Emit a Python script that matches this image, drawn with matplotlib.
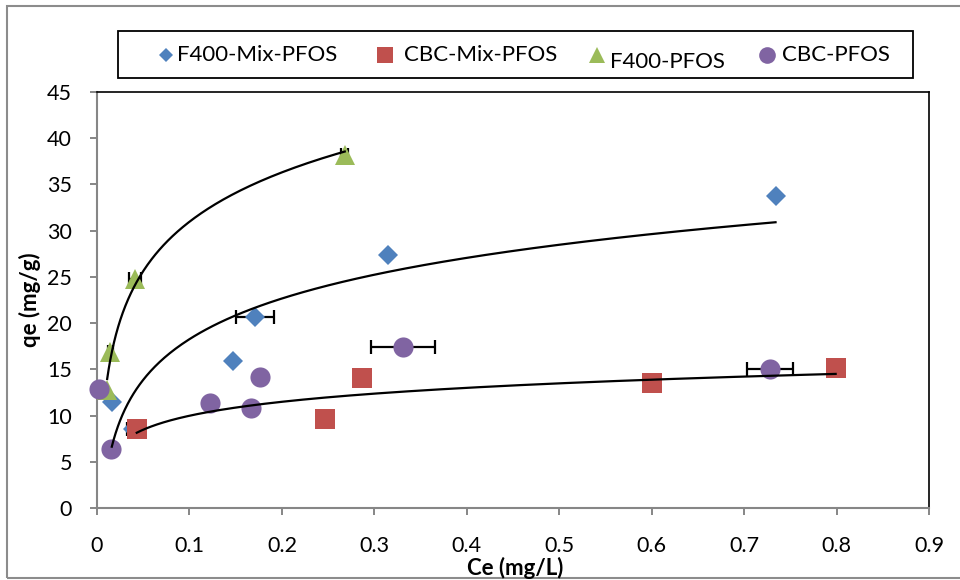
import numpy as np
import matplotlib
matplotlib.use("Agg")
import matplotlib.pyplot as plt
from matplotlib.lines import Line2D
from matplotlib.patches import Rectangle

plt.rcParams['font.family'] = ['Lato', 'DejaVu Sans']

# ---- isotherm data: Ce (mg/L) vs qe (mg/g) ----
f400_mix_x = [0.016, 0.039, 0.147, 0.171, 0.315, 0.734]
f400_mix_y = [11.5, 8.55, 15.85, 20.7, 27.4, 33.75]
f400_mix_xerr = [0.0, 0.007, 0.0, 0.021, 0.0, 0.0]

cbc_mix_x = [0.043, 0.247, 0.287, 0.600, 0.799]
cbc_mix_y = [8.5, 9.6, 14.05, 13.5, 15.1]

f400_x = [0.011, 0.0145, 0.041, 0.268]
f400_y = [12.8, 16.9, 24.8, 38.2]
f400_xerr = [0.0, 0.003, 0.0065, 0.004]

cbc_x = [0.002, 0.015, 0.122, 0.167, 0.176, 0.331, 0.728]
cbc_y = [12.85, 6.35, 11.35, 10.8, 14.15, 17.4, 15.0]
cbc_xerr = [0.0, 0.0, 0.0, 0.0, 0.0, 0.035, 0.025]

labels = ["F400-Mix-PFOS", "CBC-Mix-PFOS", "F400-PFOS", "CBC-PFOS"]
colors = ["#4F81BD", "#C0504D", "#9BBB59", "#8064A2"]

x_ticks = [0, 0.1, 0.2, 0.3, 0.4, 0.5, 0.6, 0.7, 0.8, 0.9]
y_ticks = [0, 5, 10, 15, 20, 25, 30, 35, 40, 45]

W, H = 960, 580
fig = plt.figure(figsize=(W / 100, H / 100), dpi=100)


def fx(px):
    return px / W


def fy(py):
    return 1 - py / H


ax = fig.add_axes([fx(97), fy(508), fx(929) - fx(97), fy(92) - fy(508)])


def log_trend(x, y):
    """Logarithmic least-squares trendline y = a + b ln(x) over the data range."""
    x = np.asarray(x, float)
    y = np.asarray(y, float)
    b, a = np.polyfit(np.log(x), y, 1)
    xs = np.geomspace(x.min(), x.max(), 200)
    return xs, a + b * np.log(xs)


series = [
    (f400_mix_x, f400_mix_y, f400_mix_xerr, 'D', 9.8, True),
    (cbc_mix_x, cbc_mix_y, None, 's', 15, True),
    (f400_x, f400_y, f400_xerr, '^', 14, True),
    (cbc_x, cbc_y, cbc_xerr, 'o', 14.5, False),
]

z = 3
for (x, y, xerr, mk, ms, trend), col in zip(series, colors):
    if xerr is not None:
        xe = np.asarray(xerr)
        m = xe > 0
        ax.errorbar(np.asarray(x)[m], np.asarray(y)[m], xerr=xe[m], fmt='none',
                    ecolor='black', elinewidth=1.6, capsize=4.8, capthick=1.6,
                    zorder=z, clip_on=False)
    ax.plot(x, y, linestyle='none', marker=mk, markersize=ms, color=col,
            markeredgewidth=0, zorder=z + 0.5, clip_on=False)
    z += 1

# trendlines on top of markers
for (x, y, xerr, mk, ms, trend) in series:
    if trend:
        xs, ys = log_trend(x, y)
        ax.plot(xs, ys, color='black', lw=1.6, zorder=10)

ax.set_xlim(0, 0.9)
ax.set_ylim(0, 45)
ax.set_xticks(x_ticks)
ax.set_yticks(y_ticks)
ax.set_xticklabels([f"{v:g}" for v in x_ticks], fontsize=15.5)
ax.set_yticklabels([str(v) for v in y_ticks], fontsize=15.5)
ax.tick_params(axis='x', direction='out', length=5, width=1.4, color='#868686', pad=15)
ax.tick_params(axis='y', direction='out', length=5, width=1.4, color='#868686', pad=13)

for side in ('left', 'bottom'):
    ax.spines[side].set_color('#868686')
    ax.spines[side].set_linewidth(1.5)
for side in ('top', 'right'):
    ax.spines[side].set_color('black')
    ax.spines[side].set_linewidth(1.2)

# axis titles placed in figure pixels
fig.text(fx(515), fy(568), "Ce (mg/L)", fontsize=16, fontweight='bold',
         ha='center', va='center')
fig.text(fx(30), fy(300), "qe (mg/g)", fontsize=16, fontweight='bold',
         ha='center', va='center', rotation=90)

# outer chart frame
fig.add_artist(Rectangle((fx(7), fy(578)), fx(962) - fx(7), fy(6) - fy(578),
                         fill=False, edgecolor='#8c8c8c', lw=1.5,
                         transform=fig.transFigure))

# legend box with entries
fig.add_artist(Rectangle((fx(118), fy(78)), fx(913) - fx(118), fy(31) - fy(78),
                         fill=False, edgecolor='black', lw=1.3,
                         transform=fig.transFigure))
leg_items = [
    (166, 55, 'D', 7.5, 177, 55),
    (385, 55, 's', 11, 404, 55),
    (597, 55, '^', 12, 610, 62),
    (767, 55, 'o', 12, 782, 55),
]
for (mx, my, mk, ms, tx, ty), lab, col in zip(leg_items, labels, colors):
    fig.add_artist(Line2D([fx(mx)], [fy(my)], marker=mk, markersize=ms,
                          color=col, markeredgewidth=0, linestyle='none',
                          transform=fig.transFigure))
    fig.text(fx(tx), fy(ty), lab, fontsize=16, ha='left', va='center')

fig.savefig("out.png", dpi=100)
